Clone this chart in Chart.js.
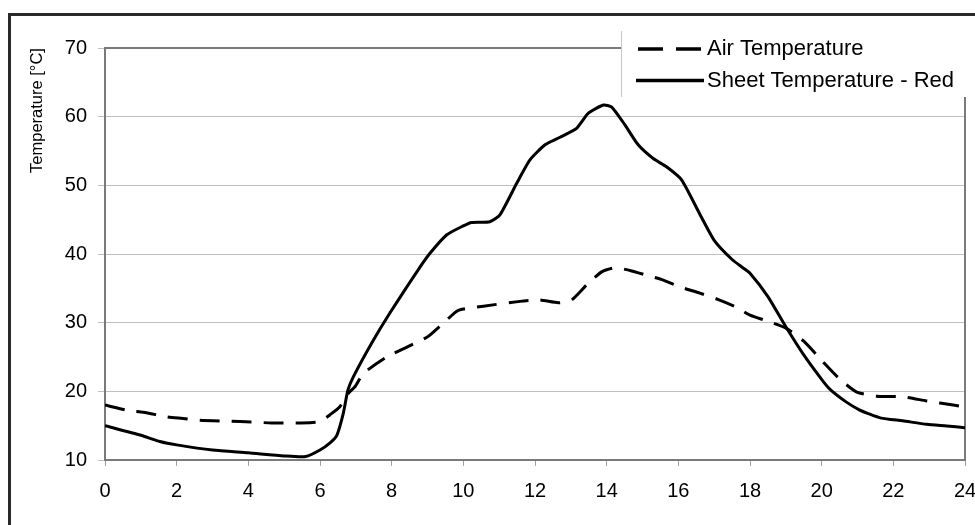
<!DOCTYPE html>
<html>
<head>
<meta charset="utf-8">
<script src="https://cdn.jsdelivr.net/npm/chart.js@4"></script>
<style>
  html, body { margin: 0; padding: 0; background: #fff; }
  #wrap { width: 975px; height: 525px; }
</style>
</head>
<body>
<div id="wrap"><canvas id="graph" width="975" height="525"></canvas></div>
<script>
// Data (hour of day -> temperature in °C)
const airHours = [0, 0.65, 1.07, 1.72, 2.05, 2.65, 3.77, 4.65, 5.44, 6.0, 6.28, 6.56, 6.79, 6.98, 7.21, 7.86, 8.65, 9.02, 9.54, 9.86, 10.56, 11.58, 12.14, 12.65, 13.02, 13.44, 13.86, 14.23, 14.65, 15.12, 15.58, 16.05, 16.6, 17.1, 17.6, 18.0, 18.5, 19.0, 19.5, 20.0, 20.5, 20.98, 21.53, 22.26, 22.93, 23.67, 24];
const airTemp = [18.0, 17.2, 16.95, 16.3, 16.1, 15.8, 15.6, 15.4, 15.4, 15.6, 16.6, 17.8, 19.7, 20.7, 22.6, 25.0, 27.0, 28.0, 30.4, 31.8, 32.4, 33.1, 33.3, 32.9, 33.3, 35.5, 37.4, 38.0, 37.6, 36.9, 36.2, 35.2, 34.3, 33.4, 32.3, 31.1, 30.2, 29.2, 27.3, 24.5, 21.8, 19.9, 19.3, 19.2, 18.6, 18.0, 17.7];

const sheetHours = [0, 1.0, 1.53, 2.0, 3.0, 4.0, 5.0, 5.6, 6.0, 6.28, 6.47, 6.65, 6.78, 6.93, 7.44, 7.95, 8.74, 9.07, 9.54, 10.0, 10.23, 10.74, 11.02, 11.49, 11.86, 12.28, 12.70, 13.16, 13.49, 13.91, 14.14, 14.51, 14.88, 15.30, 15.67, 16.09, 16.6, 17.0, 17.5, 17.8, 18.0, 18.5, 19.0, 19.5, 20.02, 20.25, 20.67, 21.05, 21.28, 21.66, 22.26, 22.93, 23.49, 24];
const sheetTemp = [15.0, 13.6, 12.7, 12.2, 11.45, 11.05, 10.6, 10.5, 11.45, 12.5, 13.6, 16.8, 20.2, 22.1, 27.0, 31.4, 37.7, 40.1, 42.8, 44.1, 44.6, 44.7, 45.7, 50.3, 53.7, 55.9, 57.0, 58.3, 60.5, 61.7, 61.4, 58.8, 55.9, 53.9, 52.7, 50.8, 45.8, 42.0, 39.2, 38.0, 37.2, 33.8, 29.4, 25.3, 21.6, 20.2, 18.5, 17.3, 16.8, 16.1, 15.7, 15.2, 14.95, 14.7];

const seriesLabels = ["Air Temperature", "Sheet Temperature - Red"];
const xTicks = [0, 2, 4, 6, 8, 10, 12, 14, 16, 18, 20, 22, 24];
const yTicks = [10, 20, 30, 40, 50, 60, 70];
const yTitle = "Temperature [°C]";

const FONT = "'Liberation Sans', Arial, sans-serif";

function toPoints(xs, ys) {
    return xs.map((x, i) => ({ x: x, y: ys[i] }));
}

// frame, plot border, y title and legend box
const decor = {
    id: "decor",
    beforeDatasetsDraw(chart) {
        const { ctx, chartArea: a } = chart;
        ctx.save();
        ctx.strokeStyle = "#7a7a7a";
        ctx.lineWidth = 2;
        ctx.strokeRect(a.left, a.top, a.right - a.left, a.bottom - a.top);
        ctx.restore();
    },
    afterDraw(chart) {
        const ctx = chart.ctx;
        ctx.save();
        // outer frame (runs off the right and bottom edge)
        ctx.strokeStyle = "#2a2a2a";
        ctx.lineWidth = 3;
        ctx.strokeRect(9.5, 14.5, 1100, 1100);

        // y axis title
        ctx.fillStyle = "#000";
        ctx.font = "16.5px " + FONT;
        ctx.textAlign = "center";
        ctx.textBaseline = "middle";
        ctx.translate(37, 110.5);
        ctx.rotate(-Math.PI / 2);
        ctx.fillText(yTitle, 0, 0);
        ctx.restore();

        // legend
        ctx.save();
        ctx.fillStyle = "#fff";
        ctx.fillRect(621, 31, 360, 66);
        ctx.strokeStyle = "#c8c8c8";
        ctx.lineWidth = 1;
        ctx.beginPath();
        ctx.moveTo(621.5, 31);
        ctx.lineTo(621.5, 97);
        ctx.stroke();

        const rows = [49, 80.5];
        chart.data.datasets.forEach((ds, i) => {
            ctx.strokeStyle = "#000";
            ctx.lineWidth = 3.5;
            ctx.setLineDash(i === 0 ? [25, 13] : []);
            ctx.beginPath();
            ctx.moveTo(i === 0 ? 638 : 636, rows[i]);
            ctx.lineTo(i === 0 ? 701 : 704, rows[i]);
            ctx.stroke();
            ctx.setLineDash([]);
            ctx.fillStyle = "#000";
            ctx.font = "22px " + FONT;
            ctx.textAlign = "left";
            ctx.textBaseline = "middle";
            ctx.fillText(ds.label, 707, rows[i]);
        });
        ctx.restore();
    }
};

new Chart(document.getElementById("graph").getContext("2d"), {
    type: "line",
    data: {
        datasets: [
            {
                label: seriesLabels[0],
                data: toPoints(airHours, airTemp),
                borderColor: "#000",
                borderWidth: 3,
                borderDash: [20, 12],
                pointRadius: 0,
                tension: 0.2,
                fill: false,
            },
            {
                label: seriesLabels[1],
                data: toPoints(sheetHours, sheetTemp),
                borderColor: "#000",
                borderWidth: 3,
                pointRadius: 0,
                tension: 0.2,
                fill: false,
            },
        ],
    },
    options: {
        responsive: false,
        animation: false,
        layout: { padding: { left: 0, top: 48, right: 10, bottom: 0 } },
        plugins: {
            legend: { display: false },
            tooltip: { enabled: false },
        },
        scales: {
            x: {
                type: "linear",
                min: 0,
                max: 24,
                afterFit: (s) => {
                    s.height = 65;
                    s.paddingLeft = 0;
                    s.paddingRight = 0;
                },
                afterBuildTicks: (s) => { s.ticks = xTicks.map((v) => ({ value: v })); },
                grid: {
                    drawOnChartArea: false,
                    color: "#a0a0a0",
                    tickLength: 6,
                },
                border: { display: false },
                ticks: {
                    color: "#000",
                    font: { family: FONT, size: 20 },
                    padding: 13,
                    maxRotation: 0,
                },
            },
            y: {
                min: 10,
                max: 70,
                afterFit: (s) => {
                    s.width = 105;
                    s.paddingTop = 0;
                    s.paddingBottom = 0;
                },
                afterBuildTicks: (s) => { s.ticks = yTicks.map((v) => ({ value: v })); },
                grid: {
                    color: "#c0c0c0",
                    tickLength: 7,
                },
                border: { display: false },
                ticks: {
                    color: "#000",
                    font: { family: FONT, size: 20 },
                    padding: 11,
                },
            },
        },
    },
    plugins: [decor],
});
</script>
</body>
</html>
